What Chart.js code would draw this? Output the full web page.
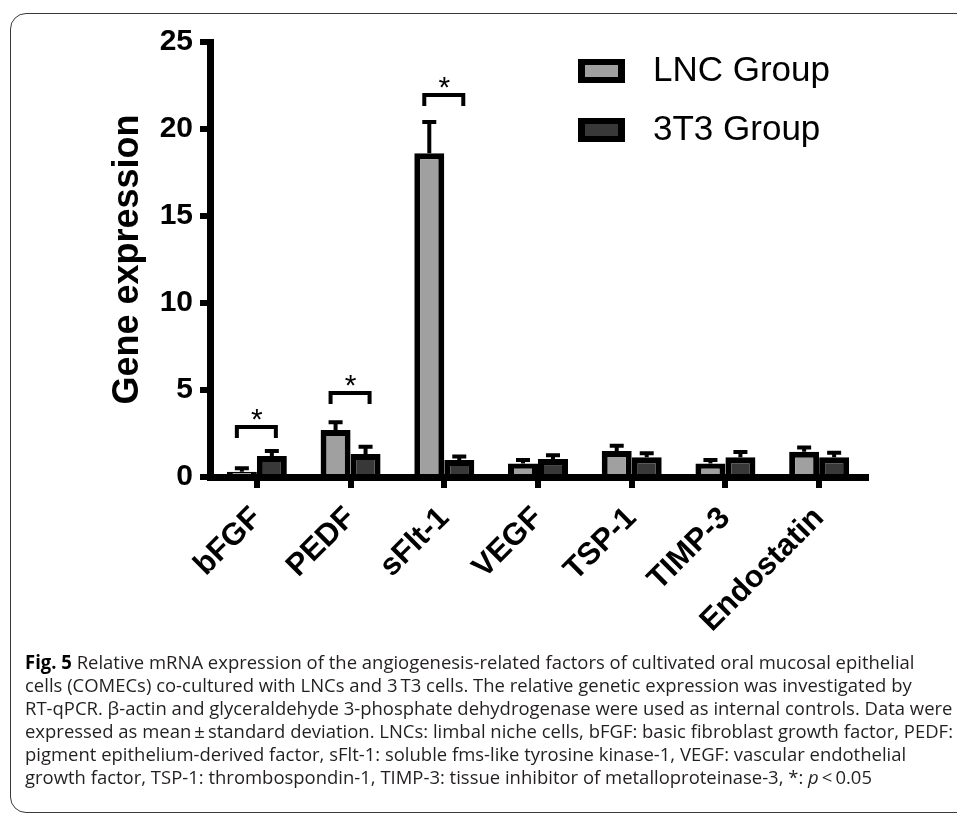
<!DOCTYPE html>
<html>
<head>
<meta charset="utf-8">
<script src="https://cdn.jsdelivr.net/npm/chart.js@4.4.1/dist/chart.umd.min.js"></script>
<style>
  body { margin: 0; background: #fff; overflow: hidden; width: 957px; height: 814px; }
  #frame { position: absolute; left: 10px; top: 13px; width: 1000px; height: 800px; border: 1.4px solid #3a3a3a; border-radius: 16px; box-sizing: border-box; }
  #chartBox { position: absolute; left: 0; top: 0; width: 957px; height: 650px; }
  #caption { position: absolute; left: 25px; top: 651px; font-family: "Open Sans", sans-serif; font-size: 19px; line-height: 23px; color: #231f20; white-space: nowrap; transform-origin: 0 0; }
  #caption b { color: #000; }
</style>
</head>
<body>
<div id="frame"></div>
<div id="chartBox"><canvas id="geneChart" width="957" height="650"></canvas></div>
<div id="caption">
  <div><b>Fig. 5</b> Relative mRNA expression of the angiogenesis-related factors of cultivated oral mucosal epithelial</div>
  <div>cells (COMECs) co-cultured with LNCs and 3&#8201;T3 cells. The relative genetic expression was investigated by</div>
  <div>RT-qPCR. β-actin and glyceraldehyde 3-phosphate dehydrogenase were used as internal controls. Data were</div>
  <div>expressed as mean&#8201;±&#8201;standard deviation. LNCs: limbal niche cells, bFGF: basic fibroblast growth factor, PEDF:</div>
  <div>pigment epithelium-derived factor, sFlt-1: soluble fms-like tyrosine kinase-1, VEGF: vascular endothelial</div>
  <div>growth factor, TSP-1: thrombospondin-1, TIMP-3: tissue inhibitor of metalloproteinase-3, *: <i>p</i>&#8201;&lt;&#8201;0.05</div>
</div>
<script>
// values
const categories = ['bFGF', 'PEDF', 'sFlt-1', 'VEGF', 'TSP-1', 'TIMP-3', 'Endostatin'];
const lncMean = [0.3, 2.7, 18.6, 0.78, 1.49, 0.78, 1.45];
const lncSd   = [0.2, 0.45, 1.8, 0.2, 0.3, 0.2, 0.25];
const t3Mean  = [1.2, 1.32, 0.98, 1.03, 1.13, 1.13, 1.13];
const t3Sd    = [0.3, 0.42, 0.2, 0.22, 0.23, 0.3, 0.27];
const yTicks  = [0, 5, 10, 15, 20, 25];
// significance brackets: category index and bracket height
const sigIndex  = [0, 1, 2];
const sigHeight = [2.87, 4.83, 21.95];

const FONT = 'Arial, "Liberation Sans", sans-serif';

// error bars, significance brackets and legend
const extras = {
    id: 'extras',
    afterDatasetsDraw(chart) {
        const ctx = chart.ctx;
        const x = chart.scales.x;
        const y = chart.scales.y;
        ctx.save();
        ctx.strokeStyle = '#000';
        ctx.fillStyle = '#000';
        ctx.lineWidth = 4;
        ctx.lineCap = 'butt';

        [lncSd, t3Sd].forEach((sd, di) => {
            const vals = chart.data.datasets[di].data;
            chart.getDatasetMeta(di).data.forEach((bar, i) => {
                const top = y.getPixelForValue(vals[i] + sd[i]);
                ctx.beginPath();
                ctx.moveTo(bar.x, bar.y);
                ctx.lineTo(bar.x, top);
                ctx.moveTo(bar.x - 7, top);
                ctx.lineTo(bar.x + 7, top);
                ctx.stroke();
            });
        });

        ctx.lineJoin = 'miter';
        ctx.font = '30px ' + FONT;
        ctx.textAlign = 'center';
        ctx.textBaseline = 'alphabetic';
        sigIndex.forEach((ci, k) => {
            const cx = x.getPixelForValue(ci);
            const yb = y.getPixelForValue(sigHeight[k]);
            ctx.beginPath();
            ctx.moveTo(cx - 20, yb + 11);
            ctx.lineTo(cx - 20, yb);
            ctx.lineTo(cx + 19, yb);
            ctx.lineTo(cx + 19, yb + 11);
            ctx.stroke();
            ctx.fillText('*', cx, yb + 2);
        });

        // legend
        ctx.font = '35px ' + FONT;
        ctx.textAlign = 'left';
        ctx.textBaseline = 'middle';
        chart.data.datasets.forEach((ds, di) => {
            const by = 59 + di * 59;
            ctx.fillStyle = '#000';
            ctx.fillRect(578, by, 47, 24);
            ctx.fillStyle = ds.backgroundColor;
            ctx.fillRect(585, by + 6, 33, 12);
            ctx.fillStyle = '#000';
            ctx.fillText(ds.label, 653, by + 12);
        });
        ctx.restore();
    }
};

const ctx = document.getElementById('geneChart').getContext('2d');
new Chart(ctx, {
    type: 'bar',
    data: {
        labels: categories,
        datasets: [{
            label: 'LNC Group',
            data: lncMean,
            backgroundColor: '#a0a0a0',
            borderColor: '#000',
            borderWidth: 6,
            categoryPercentage: 0.64,
            barPercentage: 1.0
        }, {
            label: '3T3 Group',
            data: t3Mean,
            backgroundColor: '#383838',
            borderColor: '#000',
            borderWidth: 6,
            categoryPercentage: 0.64,
            barPercentage: 1.0
        }]
    },
    options: {
        responsive: false,
        animation: false,
        layout: { padding: { left: 106, right: 91, top: 42, bottom: 0 } },
        plugins: {
            legend: { display: false },
            tooltip: { enabled: false }
        },
        scales: {
            x: {
                grid: { offset: false, drawOnChartArea: false, drawTicks: true, tickLength: 11, lineWidth: 6, color: '#000' },
                border: { display: true, width: 7, color: '#000' },
                ticks: {
                    autoSkip: false,
                    maxRotation: 45,
                    minRotation: 45,
                    padding: 12,
                    color: '#000',
                    font: { family: FONT, size: 31, weight: 'bold' }
                },
                afterFit(s) { s.height = 173; }
            },
            y: {
                min: 0,
                max: 25,
                afterBuildTicks(s) { s.ticks = yTicks.map(v => ({ value: v })); },
                grid: { drawOnChartArea: false, drawTicks: true, tickLength: 10, lineWidth: 6, color: '#000' },
                border: { display: true, width: 7, color: '#000' },
                ticks: {
                    padding: 7,
                    color: '#000',
                    font: { family: FONT, size: 30, weight: 'bold' }
                },
                title: {
                    display: true,
                    text: 'Gene expression',
                    color: '#000',
                    padding: 0,
                    font: { family: FONT, size: 36, weight: 'bold' }
                },
                afterFit(s) { s.width = 104; }
            }
        }
    },
    plugins: [extras]
});

// squeeze caption to the condensed width of the original
const cap = document.getElementById('caption');
let widest = 0;
cap.querySelectorAll('div').forEach(d => {
    d.style.display = 'inline-block';
    widest = Math.max(widest, d.getBoundingClientRect().width);
    d.style.display = 'block';
});
cap.style.transform = 'scaleX(' + (928 / widest) + ')';
</script>
</body>
</html>
